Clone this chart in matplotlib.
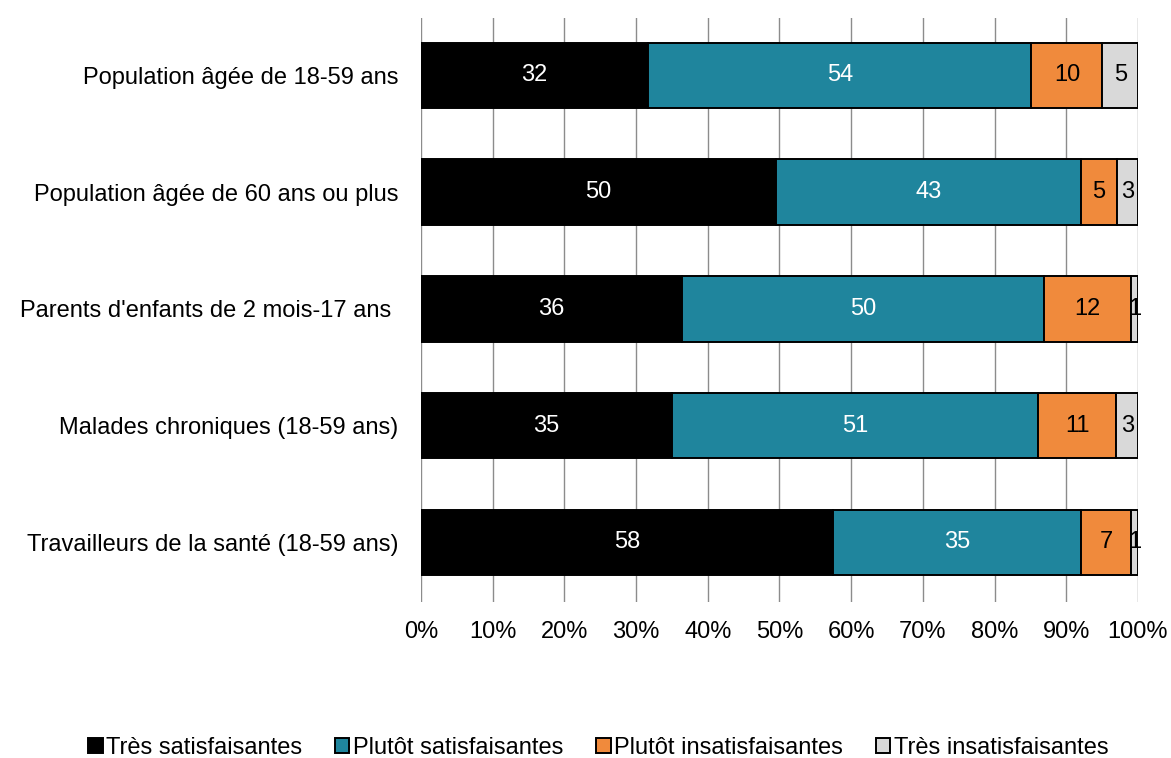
import matplotlib
matplotlib.use("Agg")
import matplotlib.pyplot as plt
import numpy as np

plt.rcParams['font.family'] = ['Liberation Sans', 'DejaVu Sans']

categories = ["Population âgée de 18-59 ans",
              "Population âgée de 60 ans ou plus",
              "Parents d'enfants de 2 mois-17 ans ",
              "Malades chroniques (18-59 ans)",
              "Travailleurs de la santé (18-59 ans)"]
series_names = ["Très satisfaisantes", "Plutôt satisfaisantes",
                "Plutôt insatisfaisantes", "Très insatisfaisantes"]
tres_sat = [32, 50, 36, 35, 58]
plutot_sat = [54, 43, 50, 51, 35]
plutot_insat = [10, 5, 12, 11, 7]
tres_insat = [5, 3, 1, 3, 1]
xtick_labels = ["0%", "10%", "20%", "30%", "40%", "50%", "60%", "70%", "80%", "90%", "100%"]

colors = ["#000000", "#1F859D", "#F08A3C", "#D9D9D9"]
text_colors = ["white", "white", "black", "black"]

data = np.array([tres_sat, plutot_sat, plutot_insat, tres_insat], dtype=float)
totals = data.sum(axis=0)
pct = data / totals * 100

fs = 17
fig = plt.figure(figsize=(11.71, 7.58), dpi=100)
ax = fig.add_axes([0.3595, 0.206, 0.9718 - 0.3595, 0.976 - 0.206])

y = np.arange(len(categories))
left = np.zeros(len(categories))
handles = []
for i in range(4):
    bars = ax.barh(y, pct[i], left=left, height=0.56, color=colors[i],
                   edgecolor="black", linewidth=1.4, label=series_names[i], zorder=3)
    handles.append(bars)
    for j in range(len(categories)):
        cx = left[j] + pct[i][j] / 2
        ax.text(cx, y[j], f"{int(data[i][j])}", ha="center", va="center",
                color=text_colors[i], fontsize=fs, zorder=4)
    left += pct[i]

ax.set_xlim(0, 100)
ax.set_ylim(4.51, -0.49)
ax.set_xticks(np.arange(0, 101, 10))
ax.set_xticklabels(xtick_labels, fontsize=fs)
ax.set_yticks(y)
ax.set_yticklabels(categories, fontsize=fs)
ax.tick_params(axis='both', length=0)
ax.tick_params(axis='x', pad=14)
ax.tick_params(axis='y', pad=16.5)
ax.grid(axis='x', color="#8C8C8C", linewidth=1, zorder=0)
for s in ax.spines.values():
    s.set_visible(False)

fig.legend(handles=handles, labels=series_names, loc="center", ncol=4,
           bbox_to_anchor=(0.511, 0.013), frameon=False, fontsize=fs,
           handlelength=0.6, handleheight=0.6, handletextpad=0.15, columnspacing=1.4)

fig.savefig("out.png", dpi=100)
